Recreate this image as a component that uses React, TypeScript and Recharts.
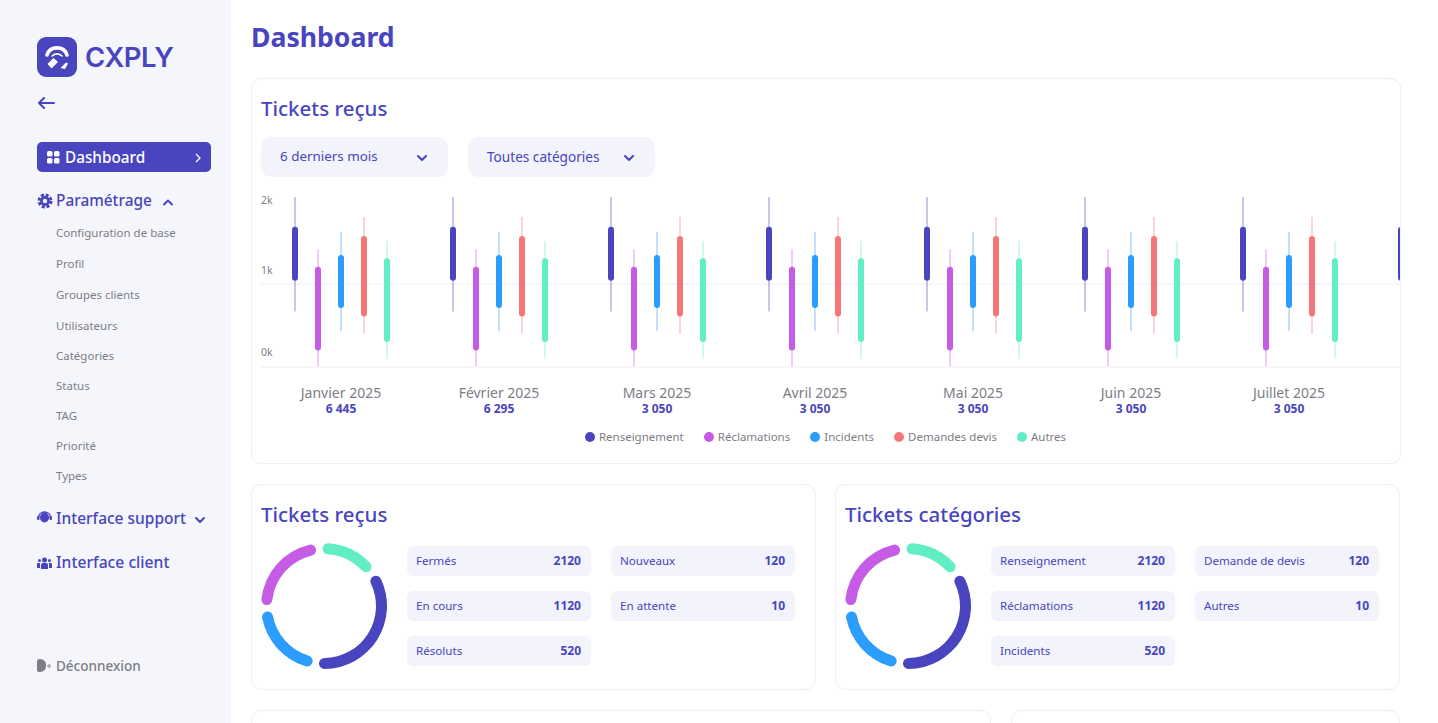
import { Bar, CartesianGrid, ComposedChart, Legend, Pie, PieChart, Rectangle, XAxis, YAxis } from 'recharts';

const PRIMARY = '#4845BF';
const PURPLE = '#C65CE5';
const BLUE = '#2A9DFF';
const RED = '#F47678';
const GREEN = '#62EEC4';
const GREY = '#7D7D85';
const FONT = '"Noto Sans", sans-serif';

const months = ['Janvier 2025', 'Février 2025', 'Mars 2025', 'Avril 2025', 'Mai 2025', 'Juin 2025', 'Juillet 2025', 'Août 2025'];
const monthTotals = ['6 445', '6 295', '3 050', '3 050', '3 050', '3 050', '3 050', '3 050'];
// the eighth month is cut off by the card, only its first bar shows
const labelledMonths = months.slice(0, 7);

// [low, high] per month
const renseignementWick = [[670, 2050], [670, 2050], [670, 2050], [670, 2050], [670, 2050], [670, 2050], [670, 2050], [670, 2050]];
const renseignementBody = [[1040, 1690], [1040, 1690], [1040, 1690], [1040, 1690], [1040, 1690], [1040, 1690], [1040, 1690], [1040, 1690]];
const reclamationsWick = [[0, 1420], [0, 1420], [0, 1420], [0, 1420], [0, 1420], [0, 1420], [0, 1420], [0, 1420]];
const reclamationsBody = [[200, 1210], [200, 1210], [200, 1210], [200, 1210], [200, 1210], [200, 1210], [200, 1210], [200, 1210]];
const incidentsWick = [[430, 1630], [430, 1630], [430, 1630], [430, 1630], [430, 1630], [430, 1630], [430, 1630], [430, 1630]];
const incidentsBody = [[710, 1350], [710, 1350], [710, 1350], [710, 1350], [710, 1350], [710, 1350], [710, 1350], [710, 1350]];
const devisWick = [[400, 1810], [400, 1810], [400, 1810], [400, 1810], [400, 1810], [400, 1810], [400, 1810], [400, 1810]];
const devisBody = [[610, 1580], [610, 1580], [610, 1580], [610, 1580], [610, 1580], [610, 1580], [610, 1580], [610, 1580]];
const autresWick = [[100, 1520], [100, 1520], [100, 1520], [100, 1520], [100, 1520], [100, 1520], [100, 1520], [100, 1520]];
const autresBody = [[300, 1310], [300, 1310], [300, 1310], [300, 1310], [300, 1310], [300, 1310], [300, 1310], [300, 1310]];

const seriesNames = ['Renseignement', 'Réclamations', 'Incidents', 'Demandes devis', 'Autres'];
const seriesColors = [PRIMARY, PURPLE, BLUE, RED, GREEN];
const yTicks = [0, 1000, 2000];

const donutValues = [126, 73, 81, 54];
const donutColors = [PRIMARY, BLUE, PURPLE, GREEN];

const recusLeft = [['Fermés', '2120'], ['En cours', '1120'], ['Résoluts', '520']];
const recusRight = [['Nouveaux', '120'], ['En attente', '10']];
const categoriesLeft = [['Renseignement', '2120'], ['Réclamations', '1120'], ['Incidents', '520']];
const categoriesRight = [['Demande de devis', '120'], ['Autres', '10']];

const menuItems = ['Configuration de base', 'Profil', 'Groupes clients', 'Utilisateurs', 'Catégories', 'Status', 'TAG', 'Priorité', 'Types'];
const menuTops = [233, 264, 295, 326, 356, 386, 416, 446, 476];

const candleData = months.map((month, i) => ({
  month,
  total: monthTotals[i],
  renseignementWick: renseignementWick[i],
  renseignementBody: renseignementBody[i],
  reclamationsWick: reclamationsWick[i],
  reclamationsBody: reclamationsBody[i],
  incidentsWick: incidentsWick[i],
  incidentsBody: incidentsBody[i],
  devisWick: devisWick[i],
  devisBody: devisBody[i],
  autresWick: autresWick[i],
  autresBody: autresBody[i],
}));

const seriesKeys = ['renseignement', 'reclamations', 'incidents', 'devis', 'autres'];
const donutData = donutValues.map((value, i) => ({ value, fill: donutColors[i] }));

const Label = ({ x, y, size = 11.5, color = GREY, weight = 400, children, spacing, family }: any) => (
  <div style={{
    position: 'absolute',
    left: x,
    top: y,
    transform: 'translateY(-50%)',
    fontSize: size,
    color,
    fontWeight: weight,
    letterSpacing: spacing,
    fontFamily: family,
    whiteSpace: 'nowrap',
    lineHeight: 1,
  }}>
    {children}
  </div>
);

const Box = ({ x, y, w, h, r = 10, bg = '#fff', border, children }: any) => (
  <div style={{
    position: 'absolute', left: x, top: y, width: w, height: h, borderRadius: r, background: bg,
    border, boxSizing: 'border-box',
  }}>{children}</div>
);

const Icon = ({ x, y, w = 16, h = 16, children }: any) => (
  <svg style={{ position: 'absolute', left: x, top: y }} width={w} height={h} viewBox={`0 0 ${w} ${h}`}>{children}</svg>
);

const Chevron = ({ x, y, up, color = PRIMARY }: any) => (
  <Icon x={x} y={y} w={12} h={8}>
    <path d={up ? 'M2 6.5 L6 2.5 L10 6.5' : 'M2 2 L6 6 L10 2'} fill="none" stroke={color} strokeWidth={2} strokeLinecap="round" strokeLinejoin="round" />
  </Icon>
);

const YTick = ({ x, y, payload }: any) => {
  // the labels sit above their value in the original, 2k barely so
  const lift = payload.value === 2000 ? 1 : payload.value === 1000 ? 14 : 15;
  return (
    <text x={x} y={y - lift} dy={4} fontSize={10.5} fill={GREY} fontFamily={FONT}>{`${payload.value / 1000}k`}</text>
  );
};

const MonthTick = ({ x, y, payload, index }: any) => (
  <g>
    <text x={x} y={y + 18} dy={5} textAnchor="middle" fontSize={14} fill={GREY} fontFamily={FONT}>{payload.value}</text>
    <text x={x} y={y + 34} dy={4} textAnchor="middle" fontSize={12} fontWeight={700} fill={PRIMARY} fontFamily={FONT}>{monthTotals[index]}</text>
  </g>
);

const Wick = (props: any) => <Rectangle {...props} x={props.x + props.width / 2 - 1} width={2} />;

const CandleLegend = () => (
  <div style={{ display: 'flex', justifyContent: 'center', gap: 20, fontFamily: FONT }}>
    {seriesNames.map((name, i) => (
      <div key={name} style={{ display: 'flex', alignItems: 'center', gap: 4, fontSize: 11.5, color: GREY, lineHeight: '20px' }}>
        <span style={{ width: 10, height: 10, borderRadius: '50%', background: seriesColors[i] }} />
        {name}
      </div>
    ))}
  </div>
);

const Donut = ({ x }: { x: number }) => (
  <div style={{ position: 'absolute', left: x - 70, top: 536 }}>
    <PieChart width={140} height={140} margin={{ top: 0, right: 0, bottom: 0, left: 0 }}>
      <Pie
        data={donutData}
        dataKey="value"
        cx={70}
        cy={70}
        innerRadius={52}
        outerRadius={63}
        startAngle={31}
        endAngle={-329}
        paddingAngle={6.5}
        cornerRadius={5.5}
        stroke="none"
        isAnimationActive={false}
      />
    </PieChart>
  </div>
);

const Pills = ({ x, rows }: { x: number; rows: string[][] }) => (
  <>
    {rows.map(([name, value], i) => (
      <Box key={name} x={x} y={546 + i * 45} w={184} h={30} r={6} bg="#F3F3FB">
        <Label x={9} y={15} size={11.6} color={PRIMARY}>{name}</Label>
        <div style={{ position: 'absolute', right: 10, top: 15, transform: 'translateY(-50%)', fontSize: 12, fontWeight: 700, color: PRIMARY, lineHeight: 1 }}>{value}</div>
      </Box>
    ))}
  </>
);

export default function App() {
  return (
    <div style={{ position: 'absolute', left: 0, top: 0, width: 1438, height: 723, overflow: 'hidden', background: '#fff', fontFamily: FONT }}>
      {/* Sidebar */}
      <div style={{ position: 'absolute', left: 0, top: 0, width: 231, height: 723, background: '#F5F6FC' }} />
      <Icon x={37} y={37} w={40} h={40}>
        <rect width={40} height={40} rx={9} fill={PRIMARY} />
        <path d="M10 18 C13 8.5 27 8.5 30 18" fill="none" stroke="#fff" strokeWidth={3.6} strokeLinecap="round" />
        <path d="M15 19 C18 16.5 22 16.5 25 19" fill="none" stroke="#fff" strokeWidth={1.6} strokeLinecap="round" />
        <path d="M10.5 27 L16.5 21 L21 25 L14.5 31.5 Z" fill="#fff" />
        <path d="M23.5 31 L29 25.5 L31 26.5 L28 32 Z" fill="#fff" />
      </Icon>
      <Label x={85} y={58} size={27.5} weight={600} color={PRIMARY} spacing={-0.5} family="Inter">CXPLY</Label>
      <Icon x={37} y={96} w={18} h={14}>
        <path d="M17 7 H2 M7 2 L2 7 L7 12" fill="none" stroke={PRIMARY} strokeWidth={2} strokeLinecap="round" strokeLinejoin="round" />
      </Icon>

      <Box x={37} y={142} w={174} h={30} r={5} bg={PRIMARY} />
      <Icon x={47} y={151} w={13} h={13}>
        <rect x={0} y={0} width={5.5} height={5.5} rx={1.5} fill="#fff" />
        <rect x={7} y={0} width={5.5} height={5.5} rx={1.5} fill="#fff" />
        <rect x={0} y={7} width={5.5} height={5.5} rx={1.5} fill="#fff" />
        <rect x={7} y={7} width={5.5} height={5.5} rx={1.5} fill="#fff" />
      </Icon>
      <Label x={65} y={158} size={15.3} weight={500} color="#fff">Dashboard</Label>
      <Icon x={194} y={152} w={8} h={12}>
        <path d="M2 2 L6 6 L2 10" fill="none" stroke="#fff" strokeWidth={1.3} />
      </Icon>

      <Icon x={37} y={193} w={16} h={16}>
        <circle cx={8} cy={8} r={5} fill={PRIMARY} />
        <circle cx={8} cy={8} r={6} fill="none" stroke={PRIMARY} strokeWidth={3} strokeDasharray="3 1.7" />
        <circle cx={8} cy={8} r={2.2} fill="#F5F6FC" />
      </Icon>
      <Label x={56} y={201} size={15.4} weight={500} color={PRIMARY}>Paramétrage</Label>
      <Chevron x={162} y={198} up />
      {menuItems.map((item, i) => (
        <Label key={item} x={56} y={menuTops[i]}>{item}</Label>
      ))}

      <Icon x={37} y={511} w={15} h={14}>
        <ellipse cx={7.5} cy={6.5} rx={4.5} ry={5} fill={PRIMARY} />
        <path d="M1.5 7 C1.5 -1 13.5 -1 13.5 7" fill="none" stroke={PRIMARY} strokeWidth={1.5} />
        <rect x={0} y={5} width={2.5} height={4} rx={1} fill={PRIMARY} />
        <rect x={12.5} y={5} width={2.5} height={4} rx={1} fill={PRIMARY} />
      </Icon>
      <Label x={56} y={519} size={15.5} weight={500} color={PRIMARY}>Interface support</Label>
      <Chevron x={194} y={516} />

      <Icon x={37} y={556} w={15} h={13}>
        <circle cx={7.5} cy={4} r={2.5} fill={PRIMARY} />
        <circle cx={2.5} cy={4.5} r={1.5} fill={PRIMARY} />
        <circle cx={12.5} cy={4.5} r={1.5} fill={PRIMARY} />
        <path d="M4 13 V9 Q4 7 6 7 H9 Q11 7 11 9 V13 Z" fill={PRIMARY} />
        <path d="M0 12 V8 Q0 7 1 7 H3 V12 Z M12 7 H14 Q15 7 15 8 V12 H12 Z" fill={PRIMARY} />
      </Icon>
      <Label x={56} y={563} size={15.7} weight={500} color={PRIMARY}>Interface client</Label>

      <Icon x={37} y={658} w={14} h={15}>
        <path d="M0 3 Q0 1 3 1 Q9 1 9 7.5 Q9 14 3 14 Q0 14 0 12 Z" fill={GREY} />
        <path d="M10 8 H13 M11.5 6 L13.5 8 L11.5 10" fill="none" stroke={GREY} strokeWidth={1} />
      </Icon>
      <Label x={56} y={667} size={13.5} weight={500}>Déconnexion</Label>

      {/* Main */}
      <Label x={251} y={37} size={26.6} weight={700} color={PRIMARY}>Dashboard</Label>

      <Box x={251} y={78} w={1150} h={386} border="1px solid #EEEEF8" />
      <Label x={261} y={108} size={20.5} weight={500} color={PRIMARY}>Tickets reçus</Label>
      <Box x={261} y={137} w={187} h={40} bg="#F3F3FB" />
      <Label x={280} y={157} size={13.4} color={PRIMARY}>6 derniers mois</Label>
      <Chevron x={416} y={154} />
      <Box x={468} y={137} w={187} h={40} bg="#F3F3FB" />
      <Label x={487} y={157} size={13.6} color={PRIMARY}>Toutes catégories</Label>
      <Chevron x={623} y={154} />

      <div style={{ position: 'absolute', left: 261, top: 190, width: 1139, height: 270, overflow: 'hidden' }}>
        <ComposedChart
          width={1265}
          height={257}
          data={candleData}
          barSize={6}
          barGap={17}
          margin={{ top: 7, right: 0, bottom: 0, left: -1 }}
        >
          <CartesianGrid stroke="#F3F3FB" strokeWidth={1.5} vertical={false} horizontalValues={[1000]} xAxisId="wicks" />
          <XAxis
            xAxisId="wicks"
            dataKey="month"
            height={60}
            interval={0}
            ticks={labelledMonths}
            padding={{ left: 1, right: 0 }}
            axisLine={{ stroke: '#ECEBF5' }}
            tickLine={false}
            tick={<MonthTick />}
          />
          <XAxis xAxisId="bodies" dataKey="month" hide height={0} padding={{ left: 1, right: 0 }} />
          <YAxis width={1} domain={[0, 2050]} ticks={yTicks} axisLine={false} tickLine={false} tickSize={0} tickMargin={0} tick={<YTick />} />
          {seriesKeys.map((key, i) => (
            <Bar
              key={`${key}Wick`}
              xAxisId="wicks"
              dataKey={`${key}Wick`}
              fill={seriesColors[i]}
              fillOpacity={0.3}
              legendType="none"
              shape={<Wick />}
              isAnimationActive={false}
            />
          ))}
          {seriesKeys.map((key, i) => (
            <Bar
              key={`${key}Body`}
              xAxisId="bodies"
              dataKey={`${key}Body`}
              name={seriesNames[i]}
              fill={seriesColors[i]}
              radius={3}
              isAnimationActive={false}
            />
          ))}
          <Legend height={20} width={1129} wrapperStyle={{ left: 0 }} content={<CandleLegend />} />
        </ComposedChart>
      </div>

      <Box x={251} y={484} w={565} h={206} border="1px solid #EEEEF8" />
      <Label x={261} y={514} size={20.5} weight={500} color={PRIMARY}>Tickets reçus</Label>
      <Donut x={324} />
      <Pills x={407} rows={recusLeft} />
      <Pills x={611} rows={recusRight} />

      <Box x={835} y={484} w={565} h={206} border="1px solid #EEEEF8" />
      <Label x={845} y={514} size={20.5} weight={500} color={PRIMARY}>Tickets catégories</Label>
      <Donut x={908} />
      <Pills x={991} rows={categoriesLeft} />
      <Pills x={1195} rows={categoriesRight} />

      <Box x={251} y={710} w={740} h={60} border="1px solid #EEEEF8" />
      <Box x={1011} y={710} w={389} h={60} border="1px solid #EEEEF8" />
    </div>
  );
}
